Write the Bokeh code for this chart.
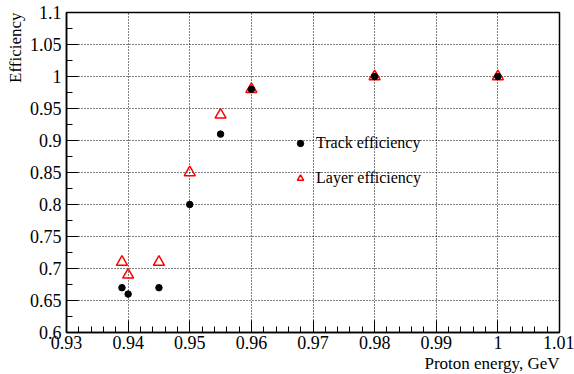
from bokeh.plotting import figure
from bokeh.models import (FixedTicker, CustomJSTickFormatter, Legend, LegendItem, Title,
                          ColumnDataSource, Range1d)
from bokeh.embed import file_html
from bokeh.resources import INLINE

# ---- data ----
energy = [0.939, 0.940, 0.945, 0.950, 0.955, 0.960, 0.980, 1.000]
track_eff = [0.67, 0.66, 0.67, 0.80, 0.91, 0.98, 1.00, 1.00]
layer_eff = [0.71, 0.69, 0.71, 0.85, 0.94, 0.98, 1.00, 1.00]

x_ticks = [0.93, 0.94, 0.95, 0.96, 0.97, 0.98, 0.99, 1.00, 1.01]
y_ticks = [0.60, 0.65, 0.70, 0.75, 0.80, 0.85, 0.90, 0.95, 1.00, 1.05, 1.10]
x_minor = [round(0.93 + 0.002 * i, 3) for i in range(41)]
y_minor = [round(0.60 + 0.025 * i, 3) for i in range(21)]

FONT = "Liberation Serif"

p = figure(width=574, height=374, output_backend="svg", toolbar_location=None,
           x_range=Range1d(0.93, 1.01), y_range=Range1d(0.6, 1.1),
           min_border_left=66, min_border_right=15, min_border_top=12, min_border_bottom=42)
p.background_fill_color = "white"
p.border_fill_color = "white"
p.outline_line_color = "black"
p.outline_line_width = 1.5

src = ColumnDataSource(dict(x=energy, track=track_eff, layer=layer_eff))
r_layer = p.scatter("x", "layer", source=src, marker="triangle", size=11,
                    fill_alpha=0, line_color="red", line_width=1.5)
r_track = p.scatter("x", "track", source=src, marker="circle", size=6.5,
                    fill_color="black", line_color="black")

fmt = CustomJSTickFormatter(code="return String(Math.round(tick*1000)/1000);")

for ax, ticks, minor in ((p.xaxis[0], x_ticks, x_minor), (p.yaxis[0], y_ticks, y_minor)):
    ax.ticker = FixedTicker(ticks=ticks, minor_ticks=minor)
    ax.formatter = fmt
    ax.major_tick_in = 12
    ax.major_tick_out = 0
    ax.minor_tick_in = 6
    ax.minor_tick_out = 0
    ax.axis_line_color = "black"
    ax.axis_line_width = 1.5
    ax.major_tick_line_color = "black"
    ax.minor_tick_line_color = "black"
    ax.major_label_text_font = FONT
    ax.major_label_text_font_size = "18px"
    ax.major_label_text_color = "black"
p.xaxis.major_label_standoff = 3
p.yaxis.major_label_standoff = 5

p.xgrid.ticker = FixedTicker(ticks=x_ticks[1:-1])
p.ygrid.ticker = FixedTicker(ticks=y_ticks[1:-1])
for g in (p.xgrid[0], p.ygrid[0]):
    g.grid_line_color = "black"
    g.grid_line_dash = "1 2"
    g.grid_line_width = 1

t_y = Title(text="Efficiency", align="right", text_font=FONT, text_font_style="normal",
            text_font_size="17px", text_color="black", standoff=4)
p.add_layout(t_y, "left")
t_x = Title(text="Proton energy, GeV", align="right", text_font=FONT, text_font_style="normal",
            text_font_size="17px", text_color="black", standoff=0)
p.add_layout(t_x, "below")

legend = Legend(items=[LegendItem(label="Track efficiency", renderers=[r_track]),
                       LegendItem(label="Layer efficiency", renderers=[r_layer])],
                location=(226, 145), orientation="vertical",
                glyph_width=16, glyph_height=16, label_height=16, spacing=17,
                label_standoff=8, padding=0, margin=0,
                label_text_font=FONT, label_text_font_style="normal",
                label_text_font_size="16px", label_text_color="black",
                border_line_alpha=0, background_fill_alpha=0)
p.add_layout(legend, "center")

open("out.html", "w").write(file_html(p, INLINE))
